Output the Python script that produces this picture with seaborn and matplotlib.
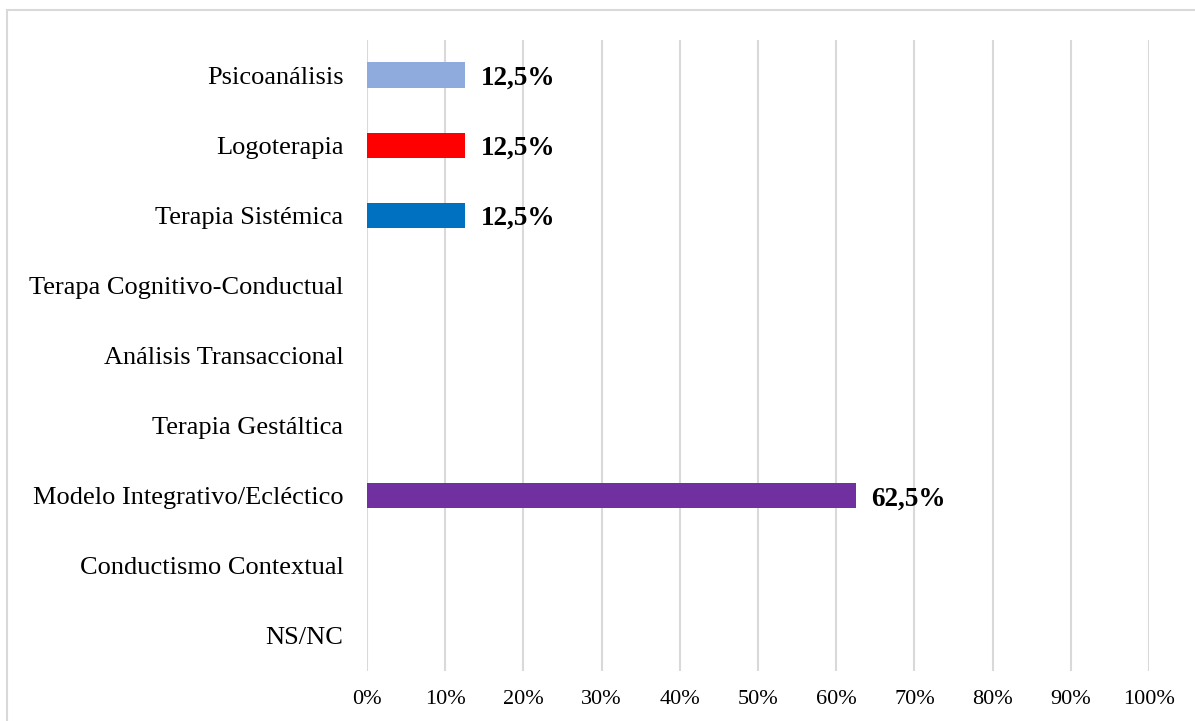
import pandas as pd
import matplotlib.pyplot as plt
import seaborn as sns
from matplotlib.patches import Rectangle

# data
categories = ['Psicoanálisis', 'Logoterapia', 'Terapia Sistémica',
              'Terapa Cognitivo-Conductual', 'Análisis Transaccional',
              'Terapia Gestáltica', 'Modelo Integrativo/Ecléctico',
              'Conductismo Contextual', 'NS/NC']
values = [12.5, 12.5, 12.5, 0, 0, 0, 62.5, 0, 0]
colors = ['#8FAADC', '#FF0000', '#0070C0', '#A5A5A5', '#FFC000',
          '#5B9BD5', '#7030A0', '#70AD47', '#264478']
tick_vals = list(range(0, 101, 10))
tick_labels = [f'{v}%' for v in tick_vals]

df = pd.DataFrame({'cat': categories, 'val': values})

sns.set_style('white')
plt.rcParams['font.family'] = ['Liberation Serif', 'DejaVu Serif']
plt.rcParams['text.color'] = 'black'
plt.rcParams['xtick.color'] = 'black'
plt.rcParams['ytick.color'] = 'black'

fig = plt.figure(figsize=(11.95, 7.21), dpi=100)
ax = fig.add_axes([367 / 1195, 1 - 671 / 721, (1149 - 367) / 1195, (671 - 40) / 721])

sns.barplot(data=df, y='cat', x='val', hue='cat', order=categories,
            palette=dict(zip(categories, colors)), orient='h',
            width=0.36, legend=False, ax=ax, saturation=1, linewidth=0)

ax.set_xlim(0, 100)
ax.set_ylim(len(categories) - 0.5, -0.5)
ax.set_xticks(tick_vals)
ax.set_xticklabels(tick_labels, fontsize=16)
ax.tick_params(axis='y', labelsize=19, length=0, pad=17)
ax.tick_params(axis='x', length=0, pad=14)
ax.set_xlabel('')
ax.set_ylabel('')
for s in ax.spines.values():
    s.set_visible(False)
ax.xaxis.grid(True, color='#D9D9D9', linewidth=1.5)
ax.set_axisbelow(True)

for i, v in enumerate(values):
    if v > 0:
        ax.text(v + 2, i, f'{v:.1f}%'.replace('.', ','), va='center_baseline', ha='left',
                fontsize=19.5, fontweight='bold', color='black')

# outer border
fig.patches.append(Rectangle((7 / 1195, -0.01), 1.02, 1 - 10 / 721 + 0.01,
                             transform=fig.transFigure, fill=False,
                             edgecolor='#D9D9D9', linewidth=1.5))

plt.savefig('out.png', dpi=100)
